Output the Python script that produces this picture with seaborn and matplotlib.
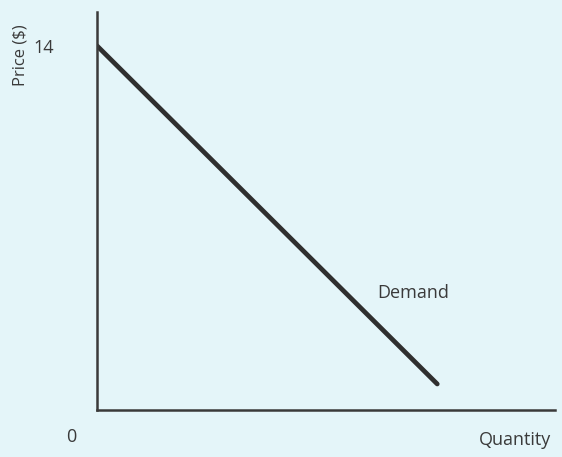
import numpy as np
import pandas as pd
import seaborn as sns
import matplotlib
matplotlib.use("Agg")
import matplotlib.pyplot as plt

# demand curve end points
quantity = [0, 13]
price = [14, 1]
price_ticks = [14]
price_tick_labels = ["14"]

sns.set_style("white")
plt.rcParams['font.family'] = ['Open Sans', 'DejaVu Sans']

bg = "#e4f5f9"
ink = "#3a3a3a"

fig = plt.figure(figsize=(5.62, 4.57), dpi=100, facecolor=bg)
ax = fig.add_axes([0.1726, 0.1028, 0.815, 0.871])
ax.set_facecolor(bg)

df = pd.DataFrame({"Quantity": quantity, "Price": price})
sns.lineplot(data=df, x="Quantity", y="Price", ax=ax, color="#2f2f2f", linewidth=3.4)

ax.set_xlim(0, 17.5)
ax.set_ylim(0, 15.3)
sns.despine(ax=ax)
for s in ["left", "bottom"]:
    ax.spines[s].set_color(ink)
    ax.spines[s].set_linewidth(1.8)

ax.set_xticks([])
ax.set_yticks(price_ticks)
ax.set_yticklabels(price_tick_labels, fontsize=13, color=ink)
ax.tick_params(axis="y", length=0, pad=31)
ax.set_xlabel("")
ax.set_ylabel("")

fig.text(0.037, 0.88, "Price ($)", rotation=90, ha="center", va="center", fontsize=12, color=ink)
fig.text(0.126, 0.044, "0", ha="center", va="center", fontsize=13, color=ink)
fig.text(0.916, 0.037, "Quantity", ha="center", va="center", fontsize=13, color=ink)
ax.text(12.07, 4.49, "Demand", ha="center", va="center", fontsize=13, color=ink)

fig.savefig("out.png", dpi=100, facecolor=bg)
